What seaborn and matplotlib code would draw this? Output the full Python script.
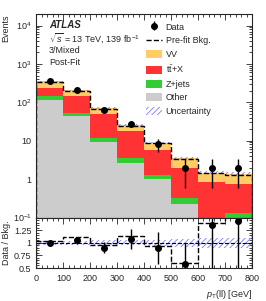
import numpy as np
import pandas as pd
import matplotlib
matplotlib.use('Agg')
import matplotlib.pyplot as plt
import seaborn as sns
from matplotlib.patches import Patch
from matplotlib.lines import Line2D
from matplotlib.ticker import MultipleLocator, FixedLocator, FixedFormatter, LogLocator, NullFormatter

# binning and yields
bin_edges = [0, 100, 200, 300, 400, 500, 600, 700, 800]
other = [118, 43, 9.5, 2.7, 0.98, 0.22, 0.05, 0.05]
zjets = [27, 10, 2.0, 0.9, 0.28, 0.10, 0.03, 0.08]
ttx = [90, 93, 39.5, 14.2, 4.34, 1.68, 0.77, 0.61]
vv = [115, 59, 21, 8.2, 3.3, 1.45, 0.63, 0.65]
data = [350, 215, 65, 28, 8, 2, 2, 2]
prefit = [340, 194, 68, 24.8, 8.6, 3.33, 1.43, 1.29]
rel_unc = [0.04, 0.04, 0.045, 0.05, 0.06, 0.08, 0.10, 0.10]

procs = ['VV', 'ttX', 'Zjets', 'Other']
labels = ['VV', r'$\mathregular{t\bar{t}}$+X', 'Z+jets', 'Other']
colors = {'VV': '#ffcc66', 'ttX': '#ff3333', 'Zjets': '#33cc33', 'Other': '#cccccc'}
unc_color = '#7a7aff'

sns.set_style('ticks')
plt.rcParams['font.family'] = ['Liberation Sans', 'DejaVu Sans']
plt.rcParams['mathtext.fontset'] = 'custom'
plt.rcParams['mathtext.rm'] = 'Liberation Sans'
plt.rcParams['mathtext.it'] = 'Liberation Sans:italic'
plt.rcParams['hatch.linewidth'] = 0.6
fs = 6.5

edges = np.array(bin_edges, dtype=float)
centers = 0.5 * (edges[:-1] + edges[1:])
data_a = np.array(data, dtype=float)
total = np.array(other) + np.array(zjets) + np.array(ttx) + np.array(vv)
unc = np.array(rel_unc)

df = pd.DataFrame({
    'pt': np.tile(centers, len(procs)),
    'w': np.concatenate([vv, ttx, zjets, other]),
    'proc': np.repeat(procs, len(centers)),
})

fig = plt.figure(figsize=(2.66, 3.01), dpi=100)
ax = fig.add_axes([0.137, 0.2774, 0.810, 0.676])
ax2 = fig.add_axes([0.137, 0.1096, 0.810, 0.1678], sharex=ax)

# stacked backgrounds
sns.histplot(data=df, x='pt', weights='w', hue='proc', hue_order=procs,
             multiple='stack', bins=bin_edges, element='step', palette=colors,
             alpha=1, linewidth=0, legend=False, ax=ax)
ax.set_yscale('log')

ax.stairs(total * (1 + unc), edges, baseline=total * (1 - unc), fill=True,
          facecolor='none', edgecolor=unc_color, hatch='//////', linewidth=0)
ax.stairs(prefit, edges, color='k', linestyle='--', linewidth=1)
eb = ax.errorbar(centers, data_a, yerr=np.sqrt(data_a), fmt='o', color='k',
                 markersize=4, elinewidth=1, capsize=0)

ax.set_xlim(0, 800)
ax.set_ylim(0.1, 2e4)
ax.set_ylabel('Events', loc='top', fontsize=fs)
ax.set_xlabel('')
ax.yaxis.set_major_locator(FixedLocator([0.1, 1, 10, 100, 1000, 10000]))
ax.yaxis.set_major_formatter(FixedFormatter([r'$10^{-1}$', '1', '10', r'$10^{2}$', r'$10^{3}$', r'$10^{4}$']))
ax.yaxis.set_minor_locator(LogLocator(base=10, subs=np.arange(2, 10), numticks=20))
ax.yaxis.set_minor_formatter(NullFormatter())
ax.tick_params(axis='x', labelbottom=False)

# text block
ax.text(0.058, 0.945, 'ATLAS', transform=ax.transAxes, fontsize=fs + 0.5,
        fontweight='bold', fontstyle='italic', va='center')
ax.text(0.058, 0.882, r'$\sqrt{s}$ = 13 TeV, 139 fb$^{-1}$', transform=ax.transAxes,
        fontsize=fs, va='center')
ax.text(0.058, 0.822, '3/Mixed', transform=ax.transAxes, fontsize=fs, va='center')
ax.text(0.058, 0.762, 'Post-Fit', transform=ax.transAxes, fontsize=fs, va='center')

handles = [eb, Line2D([], [], color='k', linestyle='--', linewidth=1)]
handles += [Patch(facecolor=colors[p], edgecolor='none') for p in procs]
handles += [Patch(facecolor='none', edgecolor=unc_color, hatch='//////', linewidth=0)]
leg_labels = ['Data', 'Pre-fit Bkg.'] + labels + ['Uncertainty']
ax.legend(handles, leg_labels, loc='upper left', bbox_to_anchor=(0.48, 0.99),
          frameon=False, fontsize=fs, labelspacing=0.5, handlelength=1.7,
          handleheight=1.0, handletextpad=0.45, borderpad=0.2)

# ratio panel
ax2.stairs(1 + unc, edges, baseline=1 - unc, fill=True, facecolor='none',
           edgecolor=unc_color, hatch='//////', linewidth=0)
ax2.axhline(1, color='k', linestyle='--', linewidth=0.8)
ax2.stairs(data_a / np.array(prefit), edges, color='k', linestyle='--', linewidth=1)
ax2.errorbar(centers, data_a / total, yerr=np.sqrt(data_a) / total, fmt='o',
             color='k', markersize=4, elinewidth=1, capsize=0)
ax2.set_ylim(0.5, 1.5)
ax2.set_xlim(0, 800)
ax2.yaxis.set_major_locator(FixedLocator([0.5, 0.75, 1.0, 1.25]))
ax2.yaxis.set_major_formatter(FixedFormatter(['0.5', '0.75', '1', '1.25']))
ax2.yaxis.set_minor_locator(MultipleLocator(0.05))
ax2.xaxis.set_major_locator(MultipleLocator(100))
ax2.xaxis.set_minor_locator(MultipleLocator(20))
ax2.set_ylabel('Data / Bkg.', fontsize=fs)
ax2.set_xlabel(r'$p_{\mathregular{T}}$(ll) [GeV]', loc='right', fontsize=fs)

for a in (ax, ax2):
    a.tick_params(which='both', direction='in', top=True, right=True,
                  labelsize=fs, width=0.6)
    a.tick_params(which='major', length=4)
    a.tick_params(which='minor', length=2)
    for s in a.spines.values():
        s.set_linewidth(0.8)
ax2.tick_params(axis='x', pad=4)
ax.yaxis.set_label_coords(-0.12, 1.0)
ax2.yaxis.set_label_coords(-0.12, 0.5)

fig.savefig('out.png', dpi=100)
